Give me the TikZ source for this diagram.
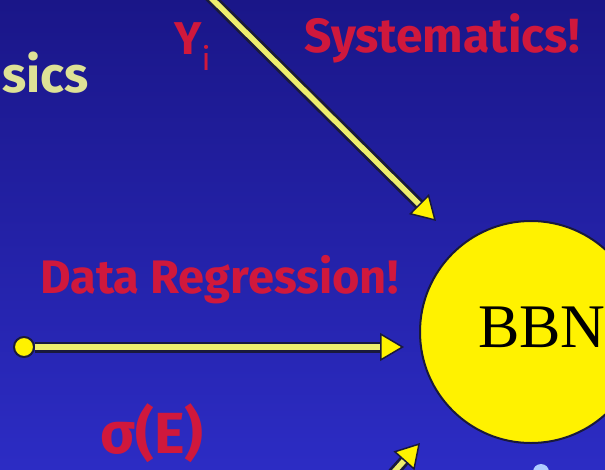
\documentclass[tikz,border=0pt]{standalone}
\usepackage{fontspec}
\setmainfont{Fira Sans}
\newfontfamily\bbnface{Liberation Serif}
\usetikzlibrary{arrows.meta}
\definecolor{slidetop}{RGB}{26,22,136}
\definecolor{slidebot}{RGB}{44,44,196}
\definecolor{labelred}{RGB}{208,24,60}
\definecolor{rayyellow}{RGB}{238,238,110}
\definecolor{raydark}{RGB}{25,25,60}
\definecolor{titlepale}{RGB}{222,226,150}
\definecolor{blobblue}{RGB}{175,205,255}

\begin{document}
\begin{tikzpicture}
[
	x=1pt,y=-1pt,
	ray/.style={rayyellow,line width=5.5pt,
	  preaction={draw=raydark,line width=11pt,-,shorten >=16pt},
	  -{Triangle[length=24pt,width=28pt,color=raydark,fill=yellow,line width=1.5pt]}},
	redlabel/.style={labelred,font=\bfseries\fontsize{48}{48}\selectfont,inner sep=0pt},
	srcdot/.style={circle,draw=raydark,fill=yellow,line width=2pt,inner sep=0pt,minimum size=20pt}
]

	% frame and background
	\useasboundingbox (0,0) rectangle (605,469);
	\clip (0,0) rectangle (605,469);
	\shade[top color=slidetop,bottom color=slidebot] (0,0) rectangle (605,469);

	% title remnant
	\node[titlepale,font=\bfseries\fontsize{50}{50}\selectfont,anchor=base west,inner sep=0pt] (title) at (2,92) {sics};

	% labels
	\node[redlabel,font=\bfseries\fontsize{46}{46}\selectfont,anchor=base west] (yi) at (174,54) {Y$_{\mathrm{i}}$};
	\node[redlabel,anchor=base west] (sys) at (304,52) {Systematics!};
	\node[redlabel,font=\bfseries\fontsize{47}{47}\selectfont,anchor=base west] (reg) at (40,293) {Data Regression!};
	\node[redlabel,font=\bfseries\fontsize{58}{58}\selectfont,anchor=base west] (sigma) at (100,453) {σ(E)};

	% BBN circle
	\node[circle,draw=raydark,fill=yellow,line width=2pt,minimum size=222pt] (bbn) at (531,332) {};
	\node[font=\bbnface\fontsize{62}{62}\selectfont,anchor=base west,inner sep=0pt] (bbntext) at (478,347) {BBN};

	% rays
	\coordinate (ytop) at (203,-10);
	\coordinate (ytip) at (436,221);
	\draw[ray] (ytop) -- (ytip);

	\node[srcdot] (src) at (24,347) {};
	\coordinate (htip) at (404,347);
	\draw[ray] (src) -- (htip);

	\coordinate (sbot) at (376,492);
	\coordinate (stip) at (420,443);
	\draw[ray] (sbot) -- (stip);

	% partial marker at the bottom
	\node[circle,fill=blobblue,inner sep=0pt,minimum size=16pt] (blob) at (541,472) {};

\end{tikzpicture}
\end{document}
